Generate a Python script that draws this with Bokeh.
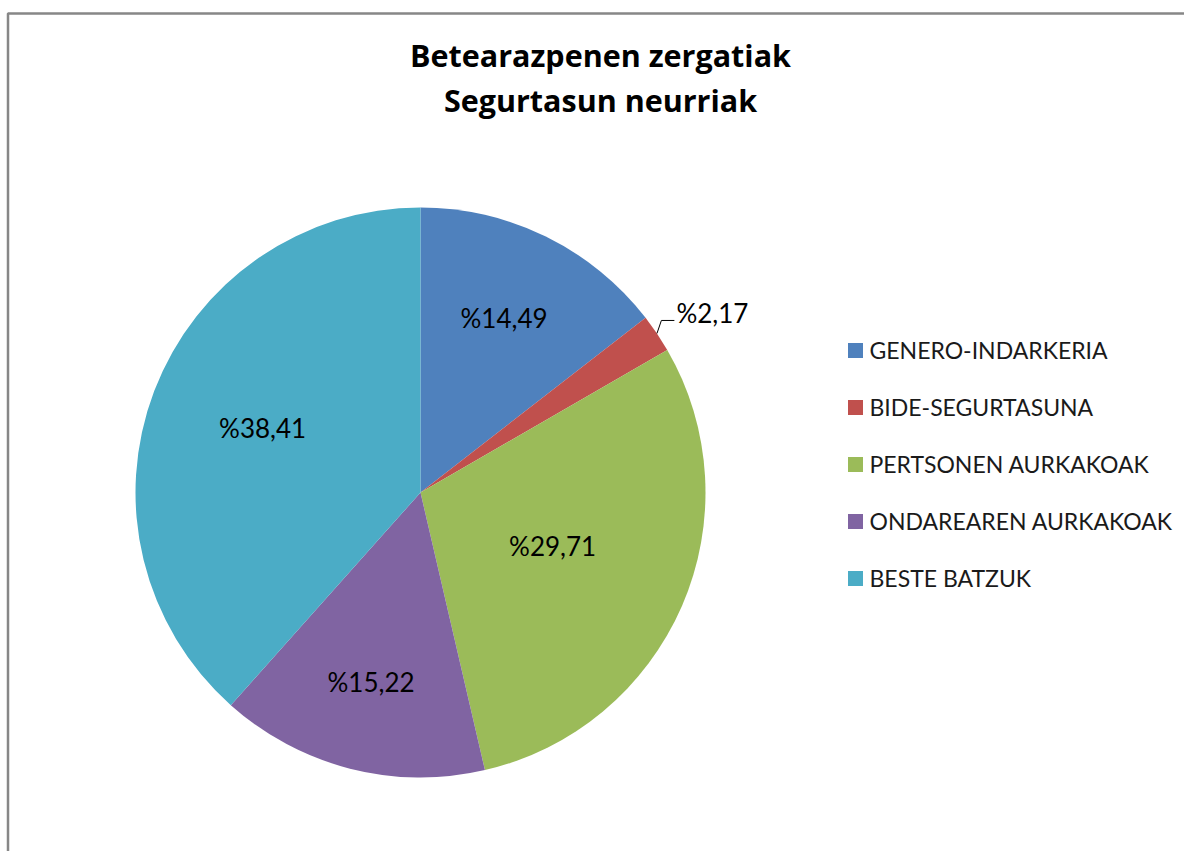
import numpy as np
from bokeh.plotting import figure
from bokeh.models import ColumnDataSource, Range1d
from bokeh.core.properties import value
from bokeh.embed import file_html
from bokeh.resources import INLINE

# ---- data ----
categories = ["GENERO-INDARKERIA", "BIDE-SEGURTASUNA", "PERTSONEN AURKAKOAK",
              "ONDAREAREN AURKAKOAK", "BESTE BATZUK"]
percent = [14.49, 2.17, 29.71, 15.22, 38.41]
label_text = ["%14,49", "%2,17", "%29,71", "%15,22", "%38,41"]
colors = ["#4F81BD", "#C0504D", "#9BBB59", "#8064A2", "#4BACC6"]
title_lines = ["Betearazpenen zergatiak", "Segurtasun neurriak"]

# ---- layout (pixel-like data coords: x = page x, y = -page y) ----
W, H = 1184, 851
cx, cy, R = 420.0, -492.0, 285.0
label_r = [190, None, 144, 200, 169]   # inside label distance; None = outside w/ leader
FONT = "Lato"

p = figure(width=W, height=H, x_range=Range1d(0, W), y_range=Range1d(-H, 0),
           output_backend="svg", toolbar_location=None, min_border=0)
p.axis.visible = False
p.grid.visible = False
p.outline_line_color = None
p.background_fill_color = "white"
p.border_fill_color = "white"

# chart border (left & top)
p.line(x=[7.5, 7.5, W], y=[-H, -13, -13], line_color="#878787", line_width=2.5)

# pie
frac = np.array(percent) / sum(percent)
cum = np.concatenate([[0], np.cumsum(frac)])
start = np.pi / 2 - 2 * np.pi * cum[:-1]
end = np.pi / 2 - 2 * np.pi * cum[1:]
mid = (start + end) / 2
src = ColumnDataSource(dict(start=start, end=end, color=colors, cat=categories))
p.wedge(x=cx, y=cy, radius=R, start_angle="start", end_angle="end", direction="clock",
        fill_color="color", line_color=None, source=src)

# inside labels
lx, ly, lt = [], [], []
for i, r in enumerate(label_r):
    if r is None:
        continue
    lx.append(cx + r * np.cos(mid[i]))
    ly.append(cy + r * np.sin(mid[i]) + 4)
    lt.append(label_text[i])
p.text(x=lx, y=ly, text=lt, text_font=value(FONT), text_font_size="26px",
       text_color="#000000", text_align="center", text_baseline="middle")

# outside label with leader
for i, r in enumerate(label_r):
    if r is not None:
        continue
    a = mid[i]
    x0, y0 = cx + R * np.cos(a), cy + R * np.sin(a)
    x1, y1 = cx + (R + 11) * np.cos(a + 0.028), cy + (R + 11) * np.sin(a + 0.028)
    x2, y2 = x1 + 13, y1
    p.line(x=[x0, x1, x2], y=[y0, y1, y2], line_color="#000000", line_width=1)
    p.text(x=[x2 + 2], y=[y2 + 7], text=[label_text[i]], text_font=value(FONT),
           text_font_size="26px", text_color="#000000", text_align="left",
           text_baseline="alphabetic")

# title
p.text(x=[600, 600], y=[-54, -99], text=title_lines, text_font=value("Open Sans"),
       text_font_size="30.5px", text_font_style="bold", text_color="#000000",
       text_align="center", text_baseline="alphabetic")

# legend
ly0, dy = -350, -57
leg_y = [ly0 + dy * i for i in range(len(categories))]
p.rect(x=[855] * len(categories), y=leg_y, width=15, height=15,
       fill_color=colors, line_color=None)
p.text(x=[869] * len(categories), y=[v + 1 for v in leg_y], text=categories,
       text_font=value(FONT), text_font_size="23px", text_color="#1a1a1a",
       text_align="left", text_baseline="alphabetic")

open("out.html", "w").write(file_html(p, INLINE))
